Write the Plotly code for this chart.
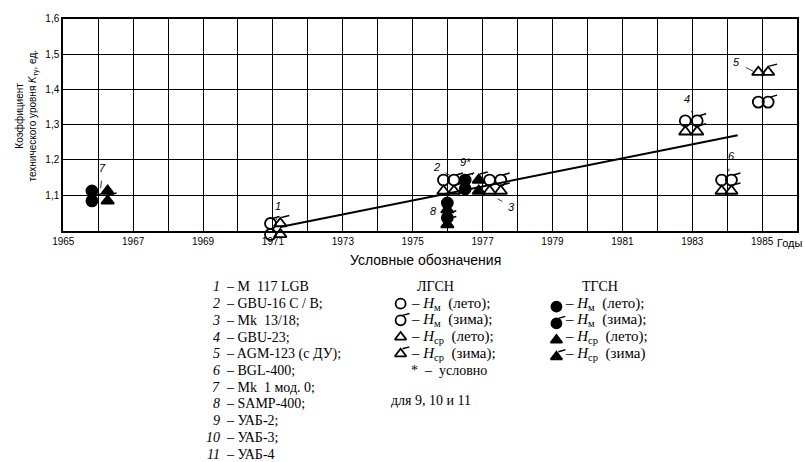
import plotly.graph_objects as go

W, H = 805, 462
PL, PR, PT, PB = 53, 797, 14, 228   # plot-area edges in pixels
EXT = 14                            # extra pixels below the frame for markers drawn across the axis

# ---------------- data ----------------
year_ticks = list(range(1965, 1986, 2))
year_labels = [str(y) for y in year_ticks]
k_ticks = [1.1, 1.2, 1.3, 1.4, 1.5, 1.6]
k_labels = ["1,1", "1,2", "1,3", "1,4", "1,5", "1,6"]
X_RANGE = [1965, 1986]
Y_RANGE = [1.0, 1.6]

trend_x = [1971.2, 1984.3]
trend_y = [1.01, 1.27]

# ЛГСН (open markers): groups 1, 2, 3, 4, 5, 6
lg_hm_summer_x = [1970.93, 1975.88, 1977.20, 1982.80, 1984.89, 1983.84]
lg_hm_summer_y = [0.989, 1.143, 1.143, 1.311, 1.364, 1.143]
lg_hm_winter_x = [1970.93, 1976.18, 1977.52, 1983.14, 1985.17, 1984.12]
lg_hm_winter_y = [1.020, 1.143, 1.143, 1.311, 1.364, 1.143]
lg_hs_summer_x = [1971.21, 1975.88, 1977.20, 1982.80, 1984.89, 1983.84]
lg_hs_summer_y = [0.989, 1.112, 1.112, 1.280, 1.449, 1.112]
lg_hs_winter_x = [1971.21, 1976.18, 1977.52, 1983.14, 1985.17, 1984.12]
lg_hs_winter_y = [1.020, 1.112, 1.112, 1.280, 1.449, 1.112]

# ТГСН (filled markers): groups 7, 8, 9
tg_hm_summer_x = [1965.82, 1975.99, 1976.50]
tg_hm_summer_y = [1.112, 1.078, 1.118]
tg_hm_winter_x = [1965.82, 1975.99, 1976.50]
tg_hm_winter_y = [1.084, 1.036, 1.143]
tg_hs_summer_x = [1966.27, 1975.99, 1976.89]
tg_hs_summer_y = [1.112, 1.059, 1.112]
tg_hs_winter_x = [1966.27, 1975.99, 1976.89]
tg_hs_winter_y = [1.084, 1.017, 1.143]

# point-group labels: text, leader tip (year, K)
group_labels = ["1", "2", "3", "4", "5", "6", "7", "8", "9*"]
label_tip_x = [1971.10, 1976.10, 1977.43, 1983.02, 1984.75, 1984.04, 1966.07, 1975.93, 1976.72]
label_tip_y = [1.030, 1.154, 1.090, 1.328, 1.451, 1.168, 1.120, 1.053, 1.157]

items = ["M  117 LGB", "GBU-16 C / B;", "Mk  13/18;", "GBU-23;", "AGM-123 (с ДУ);",
         "BGL-400;", "Mk  1 мод. 0;", "SAMP-400;", "УАБ-2;", "УАБ-3;", "УАБ-4"]
legend_rows = ["<i>H</i><sub>м</sub>  (лето);", "<i>H</i><sub>м</sub>  (зима);",
               "<i>H</i><sub>ср</sub>  (лето);", "<i>H</i><sub>ср</sub>  (зима);"]
legend_rows_t = ["<i>H</i><sub>м</sub>  (лето);", "<i>H</i><sub>м</sub>  (зима);",
                 "<i>H</i><sub>ср</sub>  (лето);", "<i>H</i><sub>ср</sub>  (зима)"]

# ---------------- helpers ----------------
def P(px, py):
    return px / W, 1 - py / H

SANS = "Liberation Sans Narrow, Liberation Sans, Arial"
SERIF = "Liberation Serif, Times New Roman, serif"
PX_PER_K = (PB - PT) / (Y_RANGE[1] - Y_RANGE[0])

fig = go.Figure()

fig.add_trace(go.Scatter(x=trend_x, y=trend_y, mode="lines", line=dict(color="black", width=2),
                         hoverinfo="skip"))

def add_pts(x, y, symbol, size):
    fig.add_trace(go.Scatter(x=x, y=y, mode="markers", cliponaxis=False, hoverinfo="skip",
                             xaxis="x3", yaxis="y3",
                             marker=dict(symbol=symbol, size=size, color="black",
                                         line=dict(color="black", width=1.8))))

add_pts(lg_hm_summer_x, lg_hm_summer_y, "circle-open", 11)
add_pts(lg_hm_winter_x, lg_hm_winter_y, "circle-open", 11)
add_pts(lg_hs_summer_x, lg_hs_summer_y, "triangle-up-open", 11)
add_pts(lg_hs_winter_x, lg_hs_winter_y, "triangle-up-open", 11)
add_pts(tg_hm_summer_x, tg_hm_summer_y, "circle", 11)
add_pts(tg_hm_winter_x, tg_hm_winter_y, "circle", 11)
add_pts(tg_hs_summer_x, tg_hs_summer_y, "triangle-up", 11)
add_pts(tg_hs_winter_x, tg_hs_winter_y, "triangle-up", 11)

shapes = []
def winter_tick(xs, ys, dx0, dy0, dx1, dy1):
    for xv, yv in zip(xs, ys):
        shapes.append(dict(type="line", xref="x3", yref="y3", xsizemode="pixel", ysizemode="pixel",
                           xanchor=xv, yanchor=yv, x0=dx0, y0=dy0, x1=dx1, y1=dy1,
                           line=dict(color="black", width=1.5)))

winter_tick(lg_hm_winter_x, lg_hm_winter_y, 2, 5, 9, 7)
winter_tick(lg_hs_winter_x, lg_hs_winter_y, 1, 6, 9, 8)
winter_tick(tg_hm_winter_x, tg_hm_winter_y, 2, 5, 9, 7)
winter_tick(tg_hs_winter_x, tg_hs_winter_y, 1, 6, 9, 8)

annotations = []
label_offsets = [(2, -14), (-15, -9), (14, 8), (-6, -16), (-17, -9), (3, -15), (2, -20), (-12, -1), (-7, -13)]
for t, xv, yv, (ax, ay) in zip(group_labels, label_tip_x, label_tip_y, label_offsets):
    annotations.append(dict(x=xv, y=yv, xref="x", yref="y", text="<i>%s</i>" % t, showarrow=True,
                            arrowhead=0, arrowwidth=0.8, arrowcolor="black", ax=ax, ay=ay,
                            standoff=0, startstandoff=5,
                            font=dict(family=SANS, size=11, color="black")))

def txt(px, py, text, size=14, family=SERIF, xanchor="left", **kw):
    x, y = P(px, py)
    annotations.append(dict(x=x, y=y, xref="paper", yref="paper", text=text, showarrow=False,
                            xanchor=xanchor, yanchor="middle",
                            font=dict(family=family, size=size, color="black"), **kw))

# axis extra texts
txt(790, 241, "Годы", size=11, family=SANS, xanchor="center")
txt(420, 258, "Условные обозначения", size=14, family=SANS, xanchor="center")
txt(9, 112, "Коэффициент", size=10, family=SANS, xanchor="center", textangle=-90)
txt(23, 112, "технического уровня <i>K</i><sub>ту</sub>, ед.", size=10, family=SANS,
    xanchor="center", textangle=-90)

# left legend column
row_y = [285 + 16.9 * i for i in range(11)]
for i, (name, ry) in enumerate(zip(items, row_y)):
    txt(214, ry, "<i>%d</i>" % (i + 1), xanchor="right")
    txt(216, ry, "– " + name)

# middle column
txt(430, 285, "ЛГСН", xanchor="center")
for t, ry in zip(legend_rows, row_y[1:5]):
    txt(404, ry, "– " + t, size=15)
txt(404, row_y[5], "*  –  условно")
txt(383, 400, "для 9, 10 и 11")

# right column
txt(597, 285, "ТГСН", xanchor="center")
for t, ry in zip(legend_rows_t, row_y[1:5]):
    txt(560, ry, "– " + t, size=15)

# legend glyphs on a pixel-space overlay axis
gl_x = [395, 395, 395, 395, 553, 553, 553, 553]
gl_y = [row_y[1], row_y[2], row_y[3], row_y[4], row_y[1] + 3, row_y[2] + 3, row_y[3] + 3, row_y[4] + 3]
gl_sym = ["circle-open", "circle-open", "triangle-up-open", "triangle-up-open",
          "circle", "circle", "triangle-up", "triangle-up"]
fig.add_trace(go.Scatter(x=gl_x, y=gl_y, xaxis="x2", yaxis="y2", mode="markers", hoverinfo="skip",
                         cliponaxis=False,
                         marker=dict(symbol=gl_sym, size=10, color="black",
                                     line=dict(color="black", width=1.8))))
for k in (1, 3, 5, 7):
    shapes.append(dict(type="line", xref="x2", yref="y2", x0=gl_x[k] + 2, y0=gl_y[k] - 5,
                       x1=gl_x[k] + 9, y1=gl_y[k] - 7, line=dict(color="black", width=1.5)))

axis_common = dict(showgrid=True, gridcolor="black", gridwidth=1, showline=True, mirror=True,
                   linecolor="black", linewidth=2, ticks="", zeroline=False,
                   tickfont=dict(family=SANS, size=10, color="black"))
fig.update_layout(
    width=W, height=H, margin=dict(l=0, r=0, t=0, b=0),
    paper_bgcolor="white", plot_bgcolor="rgba(0,0,0,0)", showlegend=False,
    xaxis=dict(domain=[PL / W, PR / W], range=X_RANGE, tickvals=year_ticks, ticktext=year_labels,
               minor=dict(dtick=1, tick0=1965, showgrid=True, gridcolor="black", gridwidth=1),
               **axis_common),
    yaxis=dict(domain=[1 - PB / H, 1 - PT / H], range=Y_RANGE, tickvals=k_ticks, ticktext=k_labels,
               **axis_common),
    xaxis2=dict(domain=[0, 1], range=[0, W], visible=False, anchor="y2"),
    yaxis2=dict(domain=[0, 1], range=[H, 0], visible=False, anchor="x2"),
    # same scale as the main axes, extended a few pixels below the frame
    xaxis3=dict(domain=[PL / W, PR / W], range=X_RANGE, visible=False, anchor="y3"),
    yaxis3=dict(domain=[1 - (PB + EXT) / H, 1 - PT / H],
                range=[Y_RANGE[0] - EXT / PX_PER_K, Y_RANGE[1]], visible=False, anchor="x3"),
    shapes=shapes, annotations=annotations,
)

fig.write_html("out.html")
